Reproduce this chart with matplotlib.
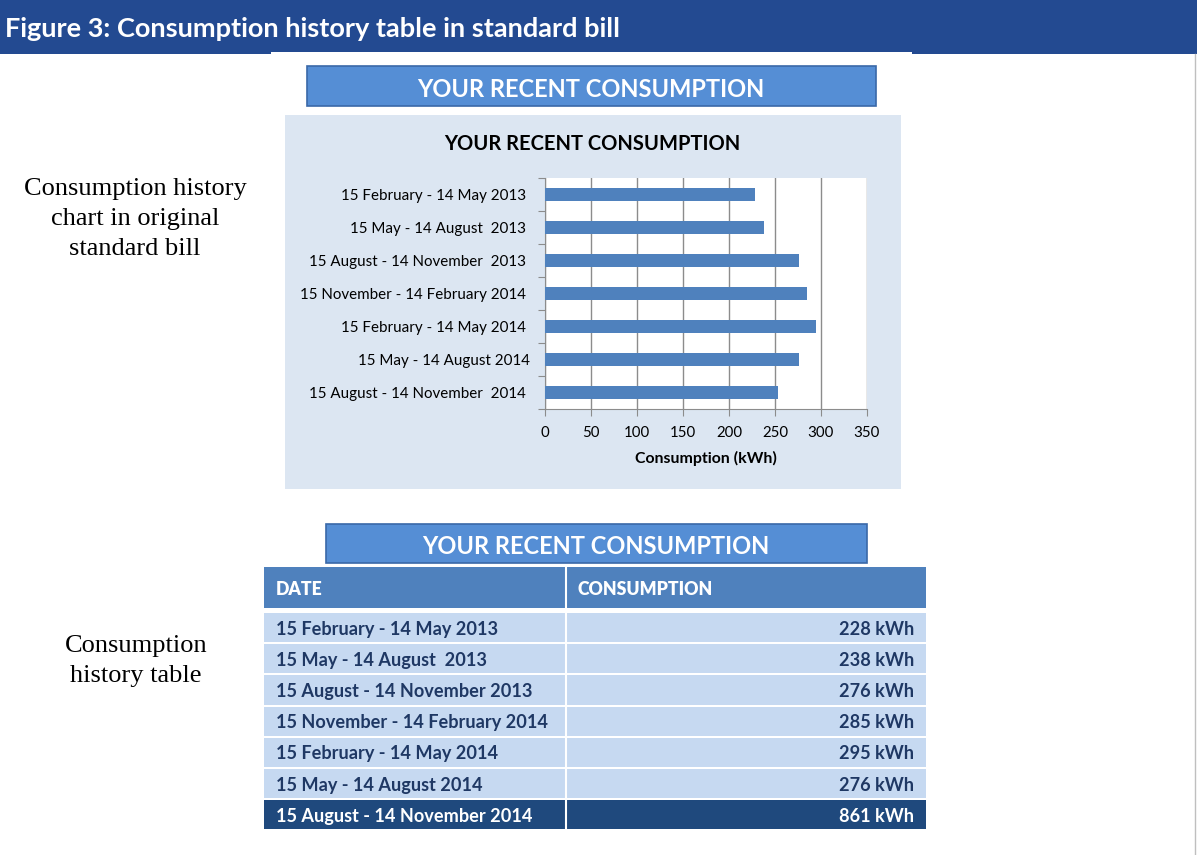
import matplotlib
matplotlib.use("Agg")
import matplotlib.pyplot as plt
from matplotlib.patches import Rectangle

# ---------------- data ----------------
header_title = "Figure 3: Consumption history table in standard bill"
banner_title = "YOUR RECENT CONSUMPTION"
chart_title = "YOUR RECENT CONSUMPTION"
chart_xlabel = "Consumption (kWh)"
chart_periods = [
    "15 February - 14 May 2013 ",
    "15 May - 14 August  2013 ",
    "15 August - 14 November  2013 ",
    "15 November - 14 February 2014 ",
    "15 February - 14 May 2014 ",
    "15 May - 14 August 2014",
    "15 August - 14 November  2014 ",
]
chart_values = [228, 238, 276, 285, 295, 276, 253]
chart_xticks = [0, 50, 100, 150, 200, 250, 300, 350]

table_headers = ["DATE", "CONSUMPTION"]
table_periods = [
    "15 February - 14 May 2013",
    "15 May - 14 August  2013",
    "15 August - 14 November 2013",
    "15 November - 14 February 2014",
    "15 February - 14 May 2014",
    "15 May - 14 August 2014",
    "15 August - 14 November 2014",
]
table_values = [228, 238, 276, 285, 295, 276, 861]
table_unit = "kWh"

side_note_chart = "Consumption history\nchart in original\nstandard bill"
side_note_table = "Consumption\nhistory table"

# ---------------- style ----------------
SANS = "Lato"
SERIF = "Liberation Serif"
C_HEADER = "#234A91"
C_BANNER = "#558ED5"
C_BANNER_EDGE = "#3A68A8"
C_CHART_BG = "#DCE6F2"
C_BAR = "#4F81BD"
C_GRID = "#8C8C8C"
C_TH = "#4F81BD"
C_ROW = "#C6D9F1"
C_LAST = "#1F497D"
C_TXT = "#1F3864"

W, H = 1197, 855
fig = plt.figure(figsize=(W / 100, H / 100), dpi=100)
fig.patch.set_facecolor("white")

# canvas axes in pixel coordinates (y downward)
cv = fig.add_axes([0, 0, 1, 1], zorder=0)
cv.set_xlim(0, W)
cv.set_ylim(H, 0)
cv.axis("off")


def rect(x0, y0, x1, y1, fc, ec="none", lw=0, z=1):
    cv.add_patch(Rectangle((x0, y0), x1 - x0, y1 - y0, facecolor=fc,
                           edgecolor=ec, linewidth=lw, zorder=z))


# header band
rect(0, 0, W, 54, C_HEADER)
rect(271, 52, 912, 54, "white", z=2)
cv.text(5, 29, header_title, color="white", fontsize=19.5, fontweight="bold",
        family=SANS, va="center", ha="left", zorder=3)
cv.plot([1195, 1195], [54, H], color="#BFBFBF", lw=1, zorder=2)

# banner 1
rect(307, 66, 876, 106, C_BANNER, C_BANNER_EDGE, 1.2)
cv.text(591, 89.5, banner_title, color="white", fontsize=17, fontweight="bold",
        family=SANS, ha="center", va="center", zorder=3)

# chart background
rect(285, 115, 901, 489, C_CHART_BG)
cv.text(592, 144.5, chart_title, color="black", fontsize=14.5,
        fontweight="bold", family=SANS, ha="center", va="center", zorder=3)

# side notes
cv.text(135, 219, side_note_chart, family=SERIF, fontsize=19, ha="center",
        va="center", linespacing=1.45, color="black")
cv.text(136, 661, side_note_table, family=SERIF, fontsize=19, ha="center",
        va="center", linespacing=1.45, color="black")

# ---------------- bar chart ----------------
L, R, T, B = 545, 867, 178, 409
ax = fig.add_axes([L / W, 1 - B / H, (R - L) / W, (B - T) / H], zorder=2)
ax.set_facecolor("white")
ypos = list(range(len(chart_values)))
ax.barh(ypos, chart_values, height=0.42, color=C_BAR, zorder=3)
ax.set_xlim(chart_xticks[0], chart_xticks[-1])
ax.set_ylim(len(chart_values) - 0.5, -0.5)
ax.set_xticks(chart_xticks)
ax.set_xticklabels([str(v) for v in chart_xticks], family=SANS, fontsize=10.8)
ax.set_yticks([i - 0.5 for i in range(len(chart_values) + 1)])
ax.set_yticklabels([])
ax.set_yticks(ypos, minor=True)
ax.set_yticklabels(chart_periods, minor=True, family=SANS, fontsize=10.9)
ax.tick_params(axis="y", which="major", length=5, color=C_GRID, direction="out")
ax.tick_params(axis="y", which="minor", length=0, pad=11)
ax.tick_params(axis="x", length=5, color=C_GRID, direction="out", pad=7)
ax.grid(axis="x", color=C_GRID, lw=1, zorder=1)
for s in ["top", "right"]:
    ax.spines[s].set_visible(False)
for s in ["left", "bottom"]:
    ax.spines[s].set_color(C_GRID)
ax.set_xlabel(chart_xlabel, family=SANS, fontsize=11.4, fontweight="bold",
              labelpad=8)

# ---------------- table ----------------
rect(326, 524, 867, 563, C_BANNER, C_BANNER_EDGE, 1.2)
cv.text(596, 546.5, banner_title, color="white", fontsize=17,
        fontweight="bold", family=SANS, ha="center", va="center", zorder=3)

TX0, TXM, TX1 = 264, 566, 926
rect(TX0, 567, TX1, 608, C_TH)
cv.plot([TXM, TXM], [567, 608], color="white", lw=1.5, zorder=2)
cv.text(276, 589, table_headers[0], color="white", fontsize=12.7,
        fontweight="heavy", family=SANS, va="center", zorder=3)
cv.text(578, 589, table_headers[1], color="white", fontsize=12.7,
        fontweight="heavy", family=SANS, va="center", zorder=3)

row_top = 613
row_h = 31.2
n = len(table_values)
for i, (p, v) in enumerate(zip(table_periods, table_values)):
    y0 = row_top + i * row_h
    last = i == n - 1
    fc = C_LAST if last else C_ROW
    tc = "white" if last else C_TXT
    rect(TX0, y0, TX1, y0 + row_h - 2, fc)
    cv.plot([TXM, TXM], [y0, y0 + row_h - 2], color="white", lw=1.5, zorder=2)
    yc = y0 + (row_h - 2) / 2 + 1.5
    cv.text(276, yc, p, color=tc, fontsize=13.1, fontweight="bold",
            family=SANS, va="center", ha="left", zorder=3)
    cv.text(914, yc, f"{v} {table_unit}", color=tc, fontsize=13.1,
            fontweight="bold", family=SANS, va="center", ha="right", zorder=3)

fig.savefig("out.png", dpi=100)
